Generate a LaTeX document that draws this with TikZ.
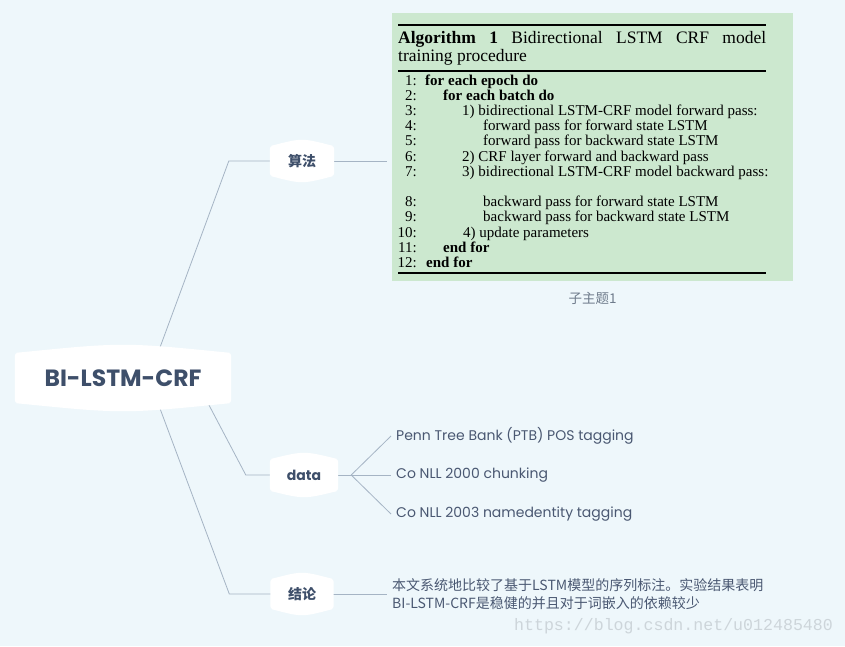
\documentclass[tikz,border=0pt]{standalone}
\usepackage{fontspec}
\setmainfont{Liberation Serif}
\newfontfamily\mmfont{Poppins}
\newfontfamily\cjk{Noto Sans CJK SC}
\newfontfamily\wmfont{Liberation Mono}
\usetikzlibrary{positioning,backgrounds}
\definecolor{bgblue}{HTML}{EEF7FB}
\definecolor{algogreen}{HTML}{CCE8CF}
\definecolor{topicink}{HTML}{3E4F6A}
\definecolor{leafink}{HTML}{4A5872}
\definecolor{branchline}{HTML}{A5B4C4}
\definecolor{subgray}{HTML}{6E7B8B}
\definecolor{wmgray}{HTML}{CDD5DA}
\tikzstyle{topic}=[text=topicink,inner sep=0pt,font=\mmfont\bfseries\fontsize{14}{16}\selectfont]
\tikzstyle{cjktopic}=[topic,font=\cjk\bfseries\fontsize{14}{16}\selectfont]
\tikzstyle{leaf}=[anchor=west,text=leafink,inner xsep=5pt,font=\mmfont\fontsize{14}{16}\selectfont]
\tikzstyle{branch}=[draw=branchline,line width=0.8pt]
\tikzstyle{algobox}=[fill=algogreen,inner sep=0pt]
\tikzstyle{algline}=[anchor=base west,inner sep=0pt,font=\fontsize{15}{15}\selectfont]
\tikzstyle{algnum}=[anchor=base east,inner sep=0pt,font=\fontsize{15}{15}\selectfont]
\tikzstyle{sublabel}=[text=subgray,inner sep=0pt,font=\cjk\fontsize{13.5}{15}\selectfont]
% #1 Knoten, #2 Woelbung
\newcommand{\bubble}[2]{%
  \fill[white,rounded corners=3pt] (#1.south west) rectangle (#1.north east);
  \fill[white] ([xshift=1.5pt]#1.north west) .. controls ([yshift=#2]#1.north) .. ([xshift=-1.5pt]#1.north east) -- cycle;
  \fill[white] ([xshift=1.5pt]#1.south west) .. controls ([yshift=-#2]#1.south) .. ([xshift=-1.5pt]#1.south east) -- cycle;}

\begin{document}
\begin{tikzpicture}[x=1pt,y=-1pt]
    \useasboundingbox (0,0) rectangle (845,646);

    % Knoten
    \node[topic, font=\mmfont\bfseries\fontsize{23.5}{27}\selectfont, minimum width=216pt, minimum height=50pt] (root) at (123,378) {BI-LSTM-CRF};
    \node[cjktopic, minimum width=64pt, minimum height=30pt] (top1) at (302,161) {算法};
    \node[topic, minimum width=68pt, minimum height=32pt] (top2) at (304,475) {data};
    \node[cjktopic, minimum width=63pt, minimum height=30pt] (top3) at (302,594) {结论};

    % Algorithmus
    \node[algobox, anchor=north west, minimum width=401pt, minimum height=268pt] (algo) at (392,13) {};
    \draw[line width=1.8pt] (398,25) -- (766,25);
    \draw[line width=1.1pt] (398,71) -- (766,71);
    \draw[line width=1.5pt] (398,273) -- (766,273);
    \node[algline, font=\fontsize{17.5}{18.5}\selectfont] (algt1) at (398,43.3) {\makebox[368pt][s]{\textbf{Algorithm 1} Bidirectional LSTM CRF model}};
    \node[algline, font=\fontsize{17.5}{18.5}\selectfont] (algt2) at (398,61.7) {training procedure};
    \foreach \n/\r/\x/\txt in {1/0/425/{\textbf{for each epoch do}},
        2/1/443/{\textbf{for each batch do}},
        3/2/462/{1) bidirectional LSTM-CRF model forward pass:},
        4/3/483/{forward pass for forward state LSTM},
        5/4/483/{forward pass for backward state LSTM},
        6/5/462/{2) CRF layer forward and backward pass},
        7/6/462/{3) bidirectional LSTM-CRF model backward pass:},
        8/8/483/{backward pass for forward state LSTM},
        9/9/483/{backward pass for backward state LSTM},
        10/10/463/{4) update parameters},
        11/11/443/{\textbf{end for}},
        12/12/426/{\textbf{end for}}}{
        \node[algnum] (num\n) at (417,{85+15.2*\r}) {\n:};
        \node[algline] (alg\n) at (\x,{85+15.2*\r}) {\txt};
    }
    \node[sublabel, below=11pt of algo] (sub1) {子主题1};

    % Blaetter
    \node[leaf] (leaf1) at (391,436) {Penn Tree Bank (PTB) POS tagging};
    \node[leaf] (leaf2) at (391,475) {Co NLL 2000 chunking};
    \node[leaf] (leaf3) at (391,514) {Co NLL 2003 namedentity tagging};
    \node[leaf, inner xsep=5pt, align=left, font=\cjk\fontsize{14}{18}\selectfont] (concl) at (387,594) {本文系统地比较了基于LSTM模型的序列标注。实验结果表明\\BI-LSTM-CRF是稳健的并且对于词嵌入的依赖较少};

    \node[text=wmgray, font=\wmfont\fontsize{16.6}{18}\selectfont] (wm) at (673.5,626) {https://blog.csdn.net/u012485480};

    % Verbindungen
    \begin{scope}[on background layer]
      \fill[bgblue] (0,0) rectangle (845,646);
      \draw[branch] ([xshift=35pt]root.north) -- ([xshift=-41pt]top1.west) -- (top1.center);
      \draw[branch] ([xshift=85pt]root.south) -- ([xshift=-24pt]top2.west) -- (top2.center);
      \draw[branch] ([xshift=35pt]root.south) -- ([xshift=-41pt]top3.west) -- (top3.center);
      \draw[branch] (top1.center) -- ([xshift=-5pt]top1 -| algo.west);
      \coordinate (fork) at ([xshift=13pt]top2.east);
      \draw[branch] (top2.center) -- (fork);
      \foreach \l in {leaf1,leaf2,leaf3}
        \draw[branch] (fork) -- (\l.west);
      \draw[branch] (top3.center) -- (concl.west);
      \bubble{root}{10.7pt}
      \bubble{top1}{8pt}
      \bubble{top2}{8pt}
      \bubble{top3}{8pt}
    \end{scope}

\end{tikzpicture}
\end{document}
